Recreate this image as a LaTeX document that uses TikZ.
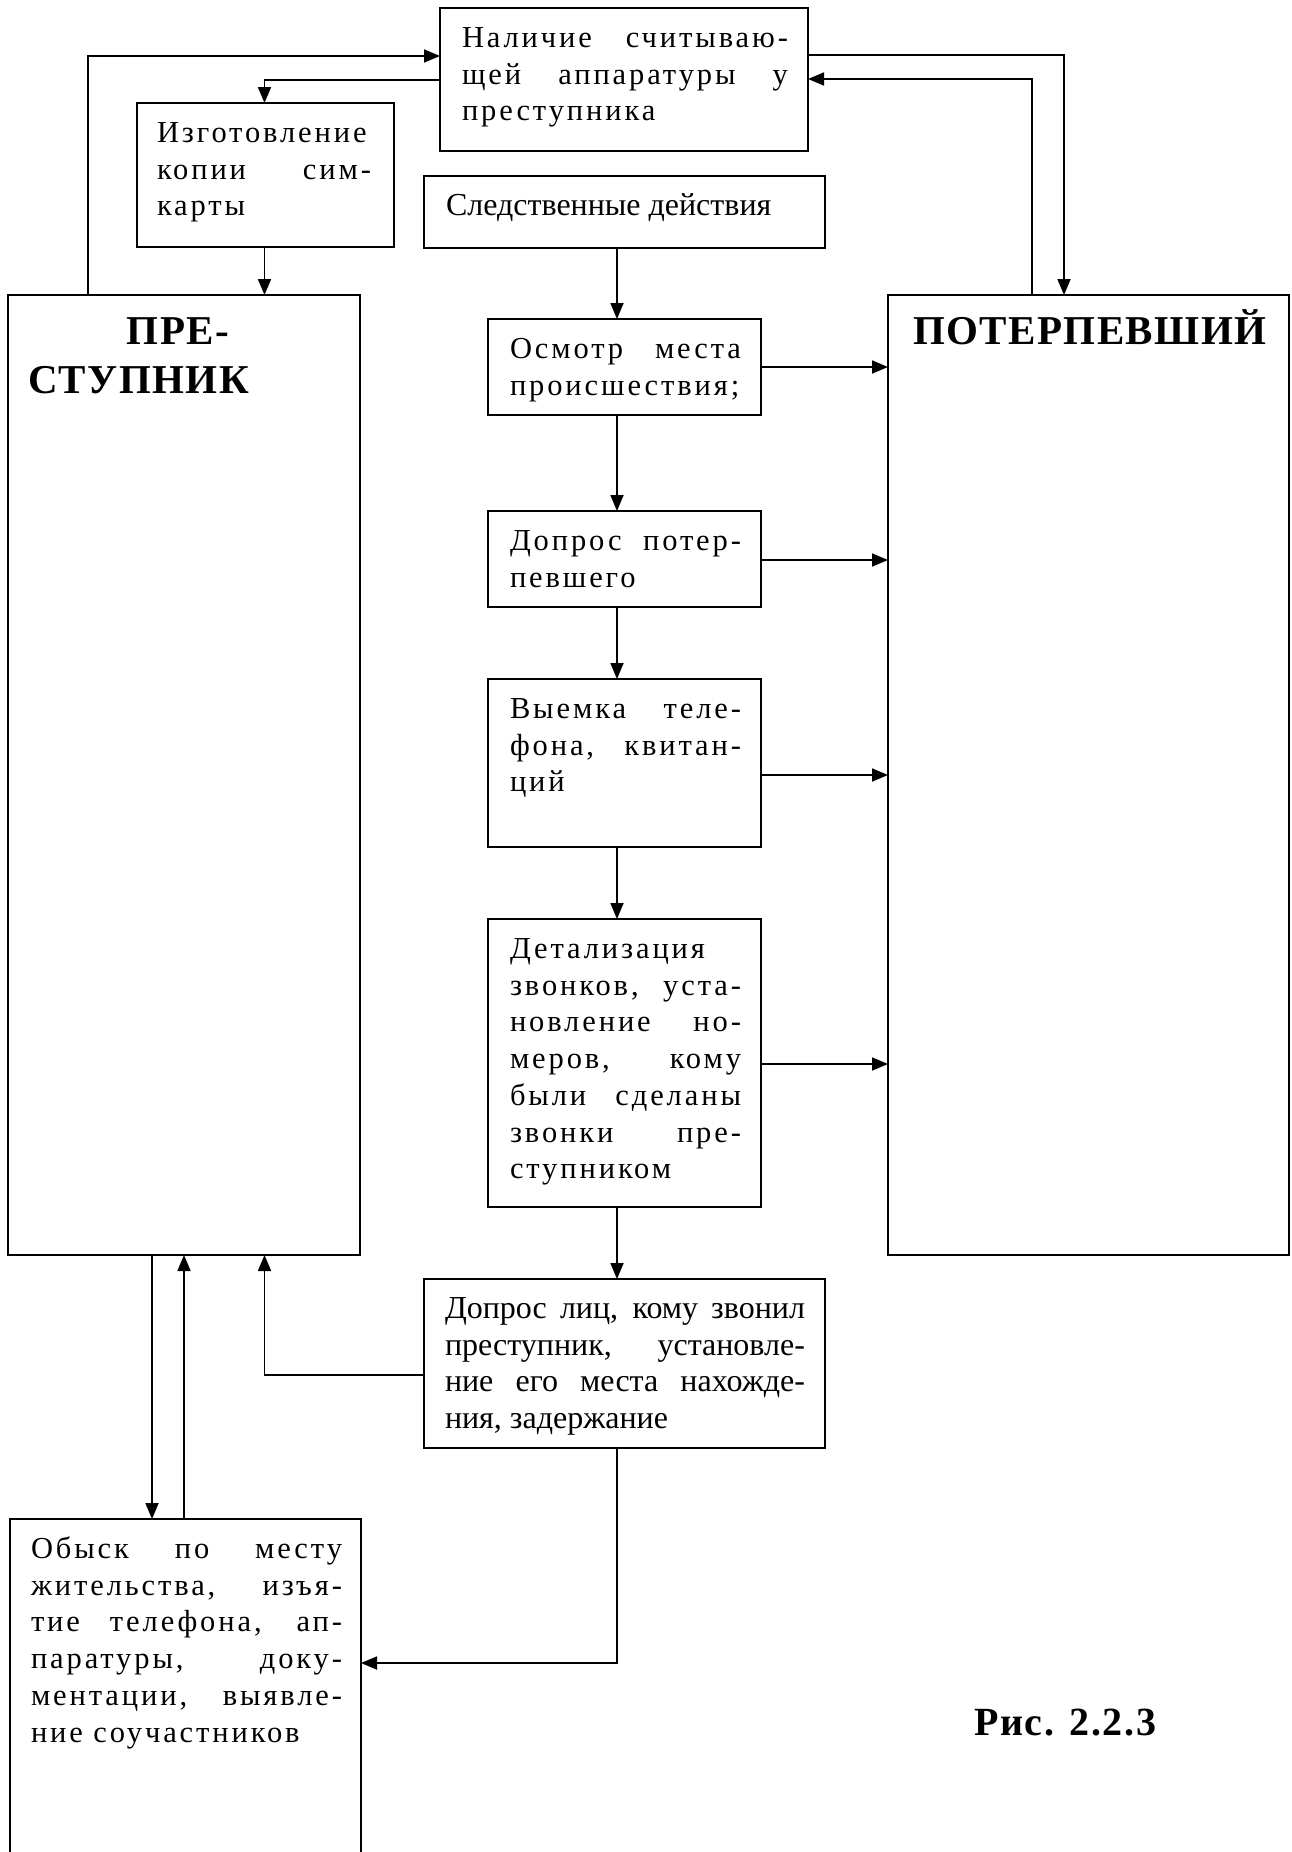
\documentclass[tikz,border=0pt]{standalone}
\usepackage{fontspec}
\setmainfont{Liberation Serif}
\newfontfamily\spcfont[LetterSpace=9.5]{Liberation Serif}
\newfontfamily\hdfont[LetterSpace=3.5]{Liberation Serif}
\newfontfamily\capfont[LetterSpace=4]{Liberation Serif}
\usetikzlibrary{arrows.meta,calc}
\tikzset{
  bx/.style={draw, line width=1.8pt, inner sep=0pt, outer sep=0pt},
  arr/.style={line width=1.8pt, -{Triangle[length=16pt,width=13pt]}},
  sp/.style={inner sep=0pt, outer sep=0pt, align=left, anchor=north west, font=\spcfont\fontsize{30.5}{36.7}\selectfont},
  pl/.style={inner sep=0pt, outer sep=0pt, align=left, font=\fontsize{32}{36.7}\selectfont},
  hd/.style={inner sep=0pt, outer sep=0pt, align=left, font=\hdfont\bfseries\fontsize{41}{49}\selectfont},
}
\newcommand\J[2]{\makebox[#1pt][s]{#2}}
\newcommand\mybox[5]{\node[bx,anchor=north west,minimum width={#4-#2},minimum height={#5-#3}] (#1) at (#2,#3) {};}
\begin{document}
\begin{tikzpicture}[x=1pt,y=-1pt]
\path[use as bounding box] (0,0) rectangle (1291,1852);
\clip (0,0) rectangle (1291,1852);
% boxes
\mybox{nal}{440}{8}{808}{151}
\mybox{izg}{137}{103}{394}{247}
\mybox{sled}{424}{176}{825}{248}
\mybox{prest}{8}{295}{360}{1255}
\mybox{poter}{888}{295}{1289}{1255}
\mybox{osm}{488}{319}{761}{415}
\mybox{dopp}{488}{511}{761}{607}
\mybox{vyem}{488}{679}{761}{847}
\mybox{detal}{488}{919}{761}{1207}
\mybox{dopl}{424}{1279}{825}{1448}
\mybox{obysk}{10}{1519}{361}{1920}
% texts
\node[sp] (nal-t) at ($(nal.north west)+(22,13.8)$)
  {\strut\J{326}{Наличие считываю-}\\\J{326}{щей аппаратуры у}\\преступника};
\node[sp] (izg-t) at ($(izg.north west)+(20,13.8)$)
  {\strut Изготовление\\\J{214}{копии сим-}\\карты};
\node[pl,anchor=base west] (sled-t) at ($(sled.north west)+(22,39.5)$)
  {Следственные действия};
\node[hd,anchor=north west] (prest-t) at ($(prest.north west)+(20,14.7)$)
  {\strut\hspace*{98.7pt}ПРЕ-\\СТУПНИК};
\node[hd,anchor=base west] (poter-t) at ($(poter.north west)+(25,49)$)
  {ПОТЕРПЕВШИЙ};
\node[sp] (osm-t) at ($(osm.north west)+(22,13.8)$)
  {\strut\J{231}{Осмотр места}\\происшествия;};
\node[sp] (dopp-t) at ($(dopp.north west)+(22,13.8)$)
  {\strut\J{231}{Допрос потер-}\\певшего};
\node[sp] (vyem-t) at ($(vyem.north west)+(22,13.8)$)
  {\strut\J{231}{Выемка теле-}\\\J{231}{фона, квитан-}\\ций};
\node[sp] (detal-t) at ($(detal.north west)+(22,13.8)$)
  {\strut Детализация\\\J{231}{звонков, уста-}\\\J{231}{новление но-}\\\J{231}{меров, кому}\\\J{231}{были сделаны}\\\J{231}{звонки пре-}\\ступником};
\node[pl,anchor=north west] (dopl-t) at ($(dopl.north west)+(21,13.8)$)
  {\strut\J{360}{Допрос лиц, кому звонил}\\\J{360}{преступник, установле-}\\\J{360}{ние его места нахожде-}\\ния, задержание};
\node[sp] (obysk-t) at ($(obysk.north west)+(21,13.8)$)
  {\strut\J{311}{Обыск по месту}\\\J{311}{жительства, изъя-}\\\J{311}{тие телефона, ап-}\\\J{311}{паратуры, доку-}\\\J{311}{ментации, выявле-}\\ние соучастников};
\node[inner sep=0pt, anchor=base west, font=\capfont\bfseries\fontsize{40}{48}\selectfont] (cap) at (974,1735) {Рис. 2.2.3};
% helper coordinates
\coordinate (cx) at (617,0);
\coordinate (p1) at (88,56);
\coordinate (p2) at (264.5,80);
\coordinate (p3) at (1064,55);
\coordinate (p4) at (1032,79);
\coordinate (p5) at (264.5,1375);
\coordinate (p6) at (617,1663);
\coordinate (xd) at (152,0);
\coordinate (xu) at (184,0);
\coordinate (q1) at (0,367);
\coordinate (q2) at (0,560);
\coordinate (q3) at (0,775);
\coordinate (q4) at (0,1064);
% connectors
\draw[arr] (prest.north -| p1) |- (nal.west |- p1);
\draw[arr] (nal.west |- p2) -| (izg.north -| p2);
\draw[arr] (izg.south -| p2) -- (prest.north -| p2);
\draw[arr] (nal.east |- p3) -| (poter.north -| p3);
\draw[arr] (poter.north -| p4) |- (nal.east |- p4);
\draw[arr] (sled.south -| cx) -- (osm.north -| cx);
\draw[arr] (osm.south -| cx) -- (dopp.north -| cx);
\draw[arr] (dopp.south -| cx) -- (vyem.north -| cx);
\draw[arr] (vyem.south -| cx) -- (detal.north -| cx);
\draw[arr] (detal.south -| cx) -- (dopl.north -| cx);
\draw[arr] (osm.east |- q1) -- (poter.west |- q1);
\draw[arr] (dopp.east |- q2) -- (poter.west |- q2);
\draw[arr] (vyem.east |- q3) -- (poter.west |- q3);
\draw[arr] (detal.east |- q4) -- (poter.west |- q4);
\draw[arr] (dopl.west |- p5) -| (prest.south -| p5);
\draw[arr] (prest.south -| xd) -- (obysk.north -| xd);
\draw[arr] (obysk.north -| xu) -- (prest.south -| xu);
\draw[arr] (dopl.south -| cx) |- (obysk.east |- p6);
\end{tikzpicture}
\end{document}
